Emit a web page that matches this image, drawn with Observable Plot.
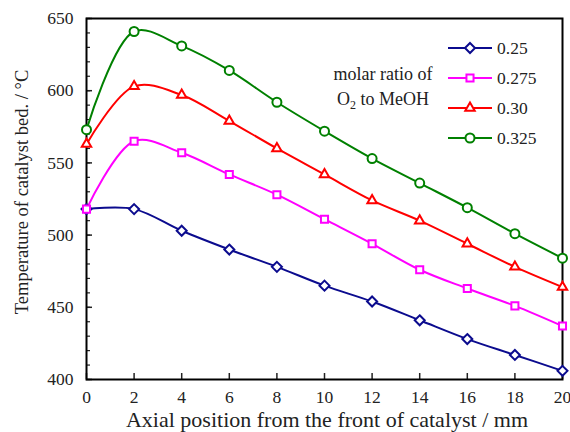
<!DOCTYPE html>
<html>
<head>
<meta charset="utf-8">
<script src="https://cdn.jsdelivr.net/npm/d3@7"></script>
<script src="https://cdn.jsdelivr.net/npm/@observablehq/plot@0.6"></script>
<style>
  html, body { margin: 0; padding: 0; background: #fff; }
  #wrap { position: relative; width: 570px; height: 432px; }
  #legend { position: absolute; left: 0; top: 0; pointer-events: none; }
  #wrap svg text { font-family: "Liberation Serif", "Times New Roman", serif !important; }
</style>
</head>
<body>
<div id="wrap"></div>
<script>
// ---- data ----
const positions = [0, 2, 4, 6, 8, 10, 12, 14, 16, 18, 20];
const ratios = ["0.25", "0.275", "0.30", "0.325"];
const temp025  = [518, 518, 503, 490, 478, 465, 454, 441, 428, 417, 406];
const temp0275 = [518, 565, 557, 542, 528, 511, 494, 476, 463, 451, 437];
const temp030  = [563, 603, 597, 579, 560, 542, 524, 510, 494, 478, 464];
const temp0325 = [573, 641, 631, 614, 592, 572, 553, 536, 519, 501, 484];
const seriesValues = [temp025, temp0275, temp030, temp0325];
const colors = ["#0b0b8e", "#ff00ff", "#ff0000", "#008000"];
const symbols = ["diamond2", "square2", "triangle2", "circle"];
const xTicks = [0, 2, 4, 6, 8, 10, 12, 14, 16, 18, 20];
const yTicks = [400, 450, 500, 550, 600, 650];
const yMinorTicks = d3.range(400, 651, 10);

const rows = [];
ratios.forEach((r, i) => positions.forEach((p, j) => rows.push({ratio: r, x: p, y: seriesValues[i][j]})));

const font = "'Liberation Serif', 'Times New Roman', serif";

const chart = Plot.plot({
  width: 570,
  height: 432,
  marginLeft: 86,
  marginRight: 8,
  marginTop: 18,
  marginBottom: 53,
  style: {fontFamily: font, fontSize: "17.5px", color: "#222", background: "#fff"},
  x: {domain: [0, 20], label: null},
  y: {domain: [400, 650], label: null},
  color: {domain: ratios, range: colors},
  symbol: {domain: ratios, range: symbols},
  marks: [
    Plot.axisX({ticks: xTicks, tickSize: 0, tickPadding: 11, fontSize: 17.5, fontFamily: font, fill: "#222"}),
    Plot.axisX({ticks: xTicks, tickSize: -6, text: null, strokeWidth: 1.5}),
    Plot.axisY({ticks: yTicks, tickSize: 0, tickPadding: 13, fontSize: 17.5, fontFamily: font, fill: "#222"}),
    Plot.axisY({ticks: yTicks, tickSize: -6, text: null, strokeWidth: 1.5}),
    Plot.axisY({ticks: yMinorTicks, tickSize: -4, text: null, strokeWidth: 1.2}),
    Plot.frame({stroke: "#000", strokeWidth: 2}),
    Plot.line(rows, {x: "x", y: "y", z: "ratio", stroke: "ratio", strokeWidth: 2, curve: "catmull-rom"}),
    Plot.dot(rows, {x: "x", y: "y", stroke: "ratio", symbol: "ratio", fill: "white", r: 4.5, strokeWidth: 2})
  ]
});
document.getElementById("wrap").appendChild(chart);

// axis titles
const svg = d3.select(chart);
svg.selectAll("text").style("font-family", font);
svg.append("text")
  .attr("x", 327).attr("y", 427)
  .attr("text-anchor", "middle")
  .attr("font-family", font).attr("font-size", 22).attr("fill", "#222")
  .text("Axial position from the front of catalyst / mm");
svg.append("text")
  .attr("transform", "translate(28,192) rotate(-90)")
  .attr("text-anchor", "middle")
  .attr("font-family", font).attr("font-size", 18.5).attr("fill", "#222")
  .text("Temperature of catalyst bed. / \u00B0C");

// legend overlay
const symbolMap = {diamond2: d3.symbolDiamond2, square2: d3.symbolSquare2, triangle2: d3.symbolTriangle2, circle: d3.symbolCircle};
const leg = d3.select("#wrap").append("svg")
  .attr("id", "legend").attr("width", 570).attr("height", 432);
ratios.forEach((r, i) => {
  const y = 48 + i * 30;
  leg.append("line").attr("x1", 448).attr("x2", 492).attr("y1", y).attr("y2", y)
    .attr("stroke", colors[i]).attr("stroke-width", 2);
  leg.append("path")
    .attr("transform", `translate(470,${y})`)
    .attr("d", d3.symbol(symbolMap[symbols[i]], 64)())
    .attr("fill", "white").attr("stroke", colors[i]).attr("stroke-width", 2);
  leg.append("text").attr("x", 497).attr("y", y).attr("dy", "0.35em")
    .attr("font-family", font).attr("font-size", 17.5).attr("fill", "#222").text(r);
});
leg.append("text").attr("x", 383).attr("y", 80).attr("text-anchor", "middle")
  .attr("font-family", font).attr("font-size", 18).attr("fill", "#222").text("molar ratio of");
const t2 = leg.append("text").attr("x", 383).attr("y", 105).attr("text-anchor", "middle")
  .attr("font-family", font).attr("font-size", 18).attr("fill", "#222");
t2.append("tspan").text("O");
t2.append("tspan").attr("font-size", 12).attr("dy", 4).text("2");
t2.append("tspan").attr("dy", -4).text(" to MeOH");
</script>
</body>
</html>
